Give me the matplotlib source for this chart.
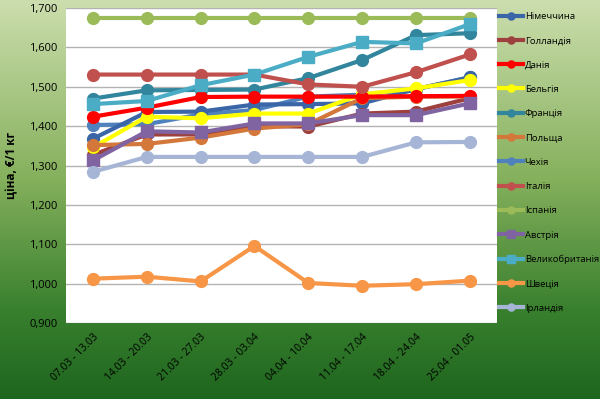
import numpy as np
import matplotlib
matplotlib.use("Agg")
import matplotlib.pyplot as plt
from matplotlib.colors import LinearSegmentedColormap
from matplotlib.ticker import FuncFormatter

plt.rcParams['font.family'] = ['Open Sans', 'DejaVu Sans']

# weeks
weeks = ["07.03 - 13.03", "14.03 - 20.03", "21.03 - 27.03", "28.03 - 03.04",
         "04.04 - 10.04", "11.04 - 17.04", "18.04 - 24.04", "25.04 - 01.05"]

# prices, EUR per 1 kg
germany = [1.368, 1.436, 1.437, 1.455, 1.456, 1.458, 1.494, 1.524]
netherlands = [1.327, 1.379, 1.379, 1.400, 1.399, 1.432, 1.437, 1.471]
denmark = [1.424, 1.447, 1.474, 1.475, 1.475, 1.475, 1.476, 1.477]
belgium = [1.346, 1.424, 1.420, 1.432, 1.432, 1.481, 1.496, 1.517]
france = [1.470, 1.491, 1.492, 1.493, 1.522, 1.568, 1.631, 1.636]
poland = [1.352, 1.355, 1.371, 1.394, 1.405, 1.471, 1.475, 1.475]
czechia = [1.403, 1.405, 1.430, 1.441, 1.475, 1.480, 1.494, 1.524]
italy = [1.531, 1.531, 1.531, 1.531, 1.506, 1.500, 1.537, 1.582]
spain = [1.674, 1.674, 1.674, 1.674, 1.674, 1.674, 1.674, 1.674]
austria = [1.313, 1.387, 1.384, 1.407, 1.407, 1.428, 1.428, 1.458]
uk = [1.456, 1.464, 1.504, 1.531, 1.576, 1.614, 1.610, 1.659]
sweden = [1.013, 1.018, 1.006, 1.096, 1.002, 0.995, 0.999, 1.008]
ireland = [1.284, 1.322, 1.322, 1.322, 1.322, 1.322, 1.359, 1.360]

series = [
    ("Німеччина", germany, '#3a66a7', 'o', 3),
    ("Голландія", netherlands, '#9e403d', 'o', 4),
    ("Данія", denmark, '#ff0000', 'o', 8.5),
    ("Бельгія", belgium, '#ffff00', 'o', 6),
    ("Франція", france, '#31859c', 'o', 7),
    ("Польща", poland, '#d4773a', 'o', 8),
    ("Чехія", czechia, '#4f81bd', 'o', 2.5),
    ("Італія", italy, '#c0504d', 'o', 10),
    ("Іспанія", spain, '#9bbb59', 'o', 11),
    ("Австрія", austria, '#8064a2', 's', 12),
    ("Великобританія", uk, '#4bacc6', 's', 13),
    ("Швеція", sweden, '#f79646', 'o', 14),
    ("Ірландія", ireland, '#a6b5d6', 'o', 15),
]

fig = plt.figure(figsize=(6, 3.99), dpi=100)

# green gradient background (light at top, dark at bottom)
bg = fig.add_axes([0, 0, 1, 1])
bg.axis('off')
cmap = LinearSegmentedColormap.from_list('bg', [
    (0.0, (0.80, 0.87, 0.68)),
    (0.45, (0.52, 0.69, 0.36)),
    (0.78, (0.22, 0.50, 0.18)),
    (1.0, (0.12, 0.40, 0.12))])
grad = np.linspace(0, 1, 256).reshape(-1, 1)
bg.imshow(grad, cmap=cmap, aspect='auto', extent=[0, 1, 0, 1], origin='upper')
bg.set_xlim(0, 1)
bg.set_ylim(0, 1)

ax = fig.add_axes([0.11, 0.19, 0.718, 0.79])
ax.set_facecolor('white')
x = np.arange(len(weeks))
for name, vals, col, mk, z in series:
    ax.plot(x, vals, color=col, marker=mk, markersize=8.5, linewidth=3,
            label=name, zorder=z)

ax.set_xlim(-0.5, len(weeks) - 0.5)
ax.set_ylim(0.9, 1.7)
ax.set_yticks(np.arange(0.9, 1.701, 0.1))
ax.yaxis.set_major_formatter(FuncFormatter(lambda v, p: f"{v:.3f}".replace('.', ',')))
ax.set_xticks(x)
ax.set_xticklabels(weeks, rotation=45, ha='right', rotation_mode='anchor', fontsize=7.5)
ax.tick_params(axis='y', labelsize=8, length=0, pad=6)
ax.tick_params(axis='x', length=0, pad=6)
ax.grid(axis='y', color='#b3b3b3', linewidth=1)
ax.set_axisbelow(True)
for s in ax.spines.values():
    s.set_visible(False)
ax.set_ylabel("ціна, €/1 кг", fontsize=8.5, fontweight='bold', labelpad=8)

leg = ax.legend(loc='upper left', bbox_to_anchor=(0.828, 0.975),
                bbox_transform=fig.transFigure, frameon=False, fontsize=6.8,
                handlelength=2.6, handletextpad=0.15, labelspacing=1.62,
                markerscale=0.6, borderaxespad=0, borderpad=0.2)

plt.savefig("out.png", dpi=100)
